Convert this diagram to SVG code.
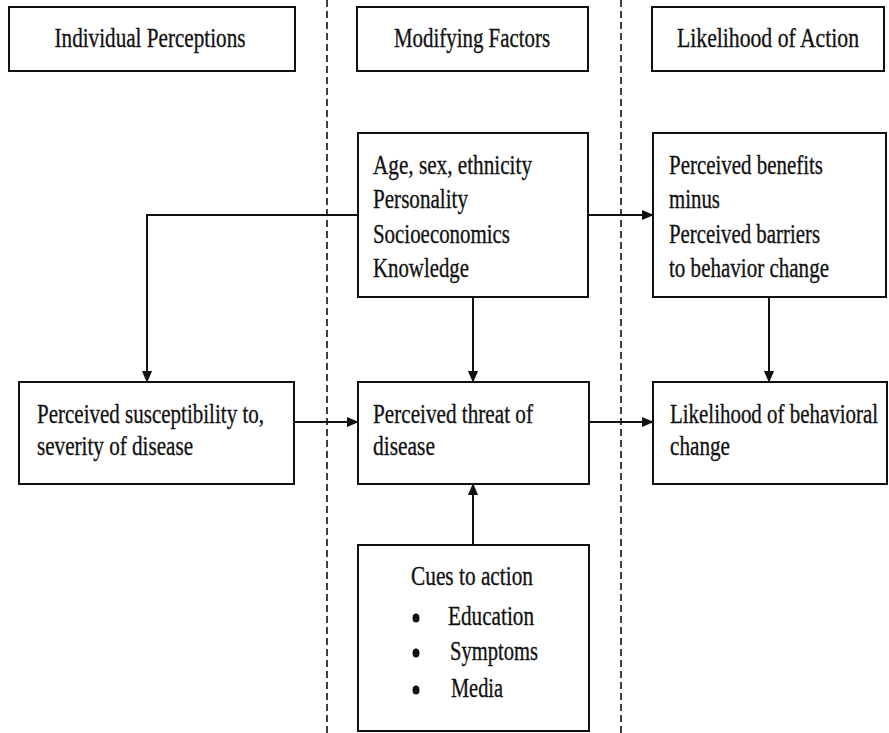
<svg xmlns="http://www.w3.org/2000/svg" width="889" height="733" viewBox="0 0 889 733">
<style>
.box{fill:#fff;stroke:#111;stroke-width:2}
.t{font-family:"Liberation Serif","Times New Roman",serif;font-size:21px;fill:#111;stroke:#111;stroke-width:0.25}
.c{text-anchor:middle}
.ln{stroke:#111;stroke-width:2;fill:none}
.dash{stroke:#111;stroke-width:1.6;stroke-dasharray:7 4;fill:none}
</style>
<defs>
<marker id="ahv" markerWidth="12" markerHeight="14" refX="13" refY="6" orient="auto" markerUnits="userSpaceOnUse" viewBox="0 0 14 12">
<path d="M0,0 L14,6 L0,12 z" fill="#111"/>
</marker>
</defs>
<rect width="889" height="733" fill="#fff"/>
<g id="dividers">
<line class="dash" x1="327" y1="0" x2="327" y2="733"/>
<line class="dash" x1="621" y1="0" x2="621" y2="733"/>
</g>
<g id="connectors">
<line class="ln" x1="147" y1="215" x2="358" y2="215"/>
<line class="ln" x1="147" y1="214" x2="147" y2="382" marker-end="url(#ahv)"/>
<line class="ln" x1="588" y1="215" x2="653" y2="215" marker-end="url(#ahv)"/>
<line class="ln" x1="473" y1="297" x2="473" y2="382" marker-end="url(#ahv)"/>
<line class="ln" x1="769" y1="297" x2="769" y2="382" marker-end="url(#ahv)"/>
<line class="ln" x1="294" y1="422" x2="358" y2="422" marker-end="url(#ahv)"/>
<line class="ln" x1="589" y1="422" x2="653" y2="422" marker-end="url(#ahv)"/>
<line class="ln" x1="473" y1="545" x2="473" y2="484" marker-end="url(#ahv)"/>
</g>
<g id="h1">
<rect class="box" x="9" y="7" width="286" height="64"/>
<text class="t c" transform="translate(150 47) scale(1 1.28)" textLength="191" lengthAdjust="spacingAndGlyphs">Individual Perceptions</text>
</g>
<g id="h2">
<rect class="box" x="357" y="7" width="231" height="64"/>
<text class="t c" transform="translate(472 47) scale(1 1.28)" textLength="156" lengthAdjust="spacingAndGlyphs">Modifying Factors</text>
</g>
<g id="h3">
<rect class="box" x="652" y="7" width="232" height="64"/>
<text class="t c" transform="translate(768 47) scale(1 1.28)" textLength="182" lengthAdjust="spacingAndGlyphs">Likelihood of Action</text>
</g>
<g id="modifying">
<rect class="box" x="358" y="133" width="230" height="164"/>
<text class="t" transform="translate(373 174) scale(1 1.28)" textLength="159" lengthAdjust="spacingAndGlyphs">Age, sex, ethnicity</text>
<text class="t" transform="translate(373 208) scale(1 1.28)" textLength="95" lengthAdjust="spacingAndGlyphs">Personality</text>
<text class="t" transform="translate(373 243) scale(1 1.28)" textLength="137" lengthAdjust="spacingAndGlyphs">Socioeconomics</text>
<text class="t" transform="translate(373 277) scale(1 1.28)" textLength="96" lengthAdjust="spacingAndGlyphs">Knowledge</text>
</g>
<g id="benefits">
<rect class="box" x="653" y="133" width="233" height="164"/>
<text class="t" transform="translate(669 174) scale(1 1.28)" textLength="154" lengthAdjust="spacingAndGlyphs">Perceived benefits</text>
<text class="t" transform="translate(669 208) scale(1 1.28)" textLength="51" lengthAdjust="spacingAndGlyphs">minus</text>
<text class="t" transform="translate(669 243) scale(1 1.28)" textLength="151" lengthAdjust="spacingAndGlyphs">Perceived barriers</text>
<text class="t" transform="translate(669 277) scale(1 1.28)" textLength="160" lengthAdjust="spacingAndGlyphs">to behavior change</text>
</g>
<g id="susceptibility">
<rect class="box" x="19" y="382" width="275" height="102"/>
<text class="t" transform="translate(37 423) scale(1 1.28)" textLength="227" lengthAdjust="spacingAndGlyphs">Perceived susceptibility to,</text>
<text class="t" transform="translate(37 455) scale(1 1.28)" textLength="156" lengthAdjust="spacingAndGlyphs">severity of disease</text>
</g>
<g id="threat">
<rect class="box" x="358" y="382" width="231" height="102"/>
<text class="t" transform="translate(373 423) scale(1 1.28)" textLength="160" lengthAdjust="spacingAndGlyphs">Perceived threat of</text>
<text class="t" transform="translate(373 455) scale(1 1.28)" textLength="62" lengthAdjust="spacingAndGlyphs">disease</text>
</g>
<g id="likelihood">
<rect class="box" x="653" y="382" width="234" height="102"/>
<text class="t" transform="translate(670 423) scale(1 1.28)" textLength="208" lengthAdjust="spacingAndGlyphs">Likelihood of behavioral</text>
<text class="t" transform="translate(670 455) scale(1 1.28)" textLength="60" lengthAdjust="spacingAndGlyphs">change</text>
</g>
<g id="cues">
<rect class="box" x="358" y="545" width="231" height="186"/>
<text class="t" transform="translate(411 585) scale(1 1.28)" textLength="122" lengthAdjust="spacingAndGlyphs">Cues to action</text>
<ellipse cx="416" cy="618" rx="3.5" ry="4.5" fill="#111"/>
<ellipse cx="416" cy="653" rx="3.5" ry="4.5" fill="#111"/>
<ellipse cx="416" cy="690" rx="3.5" ry="4.5" fill="#111"/>
<text class="t" transform="translate(448 625) scale(1 1.28)" textLength="86" lengthAdjust="spacingAndGlyphs">Education</text>
<text class="t" transform="translate(450 660) scale(1 1.28)" textLength="88" lengthAdjust="spacingAndGlyphs">Symptoms</text>
<text class="t" transform="translate(451 697) scale(1 1.28)" textLength="52" lengthAdjust="spacingAndGlyphs">Media</text>
</g>
</svg>
